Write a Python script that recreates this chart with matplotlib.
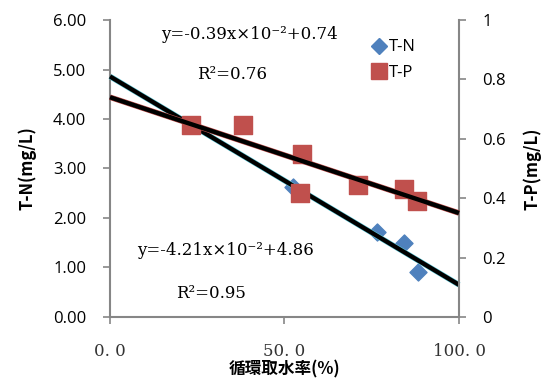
import matplotlib
matplotlib.use("Agg")
import matplotlib.pyplot as plt
import numpy as np
from matplotlib.lines import Line2D

# Data
tn_x = [52.5, 76.5, 84.2, 88.3]
tn_y = [2.62, 1.72, 1.49, 0.91]
tp_x = [23.2, 38.1, 55.0, 54.4, 71.0, 84.2, 88.0]
tp_y = [0.647, 0.647, 0.549, 0.418, 0.444, 0.431, 0.39]
tn_fit = (-4.21e-2, 4.86)
tp_fit = (-0.39e-2, 0.74)
x_ticks = [0, 50, 100]
x_ticklabels = ["0. 0", "50. 0", "100. 0"]
yl_ticks = [0, 1, 2, 3, 4, 5, 6]
yr_ticks = [0, 0.2, 0.4, 0.6, 0.8, 1.0]
yr_ticklabels = ["0", "0.2", "0.4", "0.6", "0.8", "1"]

fig = plt.figure(figsize=(5.48, 3.81), dpi=100)
ax = fig.add_axes([0.2007, 0.168, 0.6369, 0.7795])
ax2 = ax.twinx()

grey = "#868686"
for a in (ax, ax2):
    a.spines["top"].set_visible(False)
    for s in ("left", "right", "bottom"):
        a.spines[s].set_color(grey)
        a.spines[s].set_linewidth(1.5)
ax.spines["right"].set_visible(False)
ax2.spines["left"].set_visible(False)
ax2.spines["bottom"].set_visible(False)

ax.set_xlim(0, 100)
ax.set_ylim(0, 6)
ax2.set_ylim(0, 1)

xs = np.array([0, 100])
ax.scatter(tn_x, tn_y, marker="D", s=75, color="#4F81BD", zorder=3)
ax2.scatter(tp_x, tp_y, marker="s", s=150, color="#C0504D", zorder=3)
ln_tn = tn_fit[0] * xs + tn_fit[1]
ln_tp = tp_fit[0] * xs + tp_fit[1]
ax.plot(xs, ln_tn, color="#5bc8d8", lw=4.0, zorder=4, solid_capstyle="butt", clip_on=False)
ax.plot(xs, ln_tn, color="black", lw=3.2, zorder=5, solid_capstyle="butt", clip_on=False)
ax2.plot(xs, ln_tp, color="#C0504D", lw=4.0, zorder=4, solid_capstyle="butt", clip_on=False)
ax2.plot(xs, ln_tp, color="black", lw=3.2, zorder=5, solid_capstyle="butt", clip_on=False)

sans = ["Open Sans", "DejaVu Sans"]
ax.set_yticks(yl_ticks)
ax.set_yticklabels([f"{v:.2f}" for v in yl_ticks], family=sans, fontsize=12)
ax2.set_yticks(yr_ticks)
ax2.set_yticklabels(yr_ticklabels, family=sans, fontsize=12)
ax.set_xticks(x_ticks)
ax.set_xticklabels(x_ticklabels, family=["DejaVu Serif"], fontsize=12, color="#333333")
ax.tick_params(axis="y", direction="out", length=5, width=1.2, color=grey, pad=12)
ax2.tick_params(axis="y", direction="out", length=5, width=1.2, color=grey, pad=12)
ax.tick_params(axis="x", direction="out", length=5, width=1.2, color=grey, pad=14)

ax.set_ylabel("T-N(mg/L)", family=["Noto Sans CJK JP"], fontweight="bold", fontsize=12, labelpad=12)
ax2.set_ylabel("T-P(mg/L)", family=["Noto Sans CJK JP"], fontweight="bold", fontsize=12, labelpad=12)
ax.set_xlabel("循環取水率(%)", family=["Noto Sans CJK JP"], fontweight="bold", fontsize=12)
ax.xaxis.set_label_coords(0.5, -0.148)

serif = ["DejaVu Serif"]
ax.text(0.40, 0.95, "y=-0.39x×10⁻²+0.74", transform=ax.transAxes, family=serif, fontsize=12, ha="center", va="center")
ax.text(0.35, 0.815, "R²=0.76", transform=ax.transAxes, family=serif, fontsize=12, ha="center", va="center")
ax.text(0.33, 0.225, "y=-4.21x×10⁻²+4.86", transform=ax.transAxes, family=serif, fontsize=12, ha="center", va="center")
ax.text(0.29, 0.08, "R²=0.95", transform=ax.transAxes, family=serif, fontsize=12, ha="center", va="center")

handles = [Line2D([], [], marker="D", color="#4F81BD", ls="none", markersize=8),
           Line2D([], [], marker="s", color="#C0504D", ls="none", markersize=12)]
leg = ax.legend(handles, ["T-N", "T-P"], loc="upper left", bbox_to_anchor=(0.7, 0.985),
                frameon=False, prop={"family": sans, "size": 12}, handletextpad=0.0,
                labelspacing=0.55, handlelength=1.2)

fig.savefig("out.png", dpi=100)
